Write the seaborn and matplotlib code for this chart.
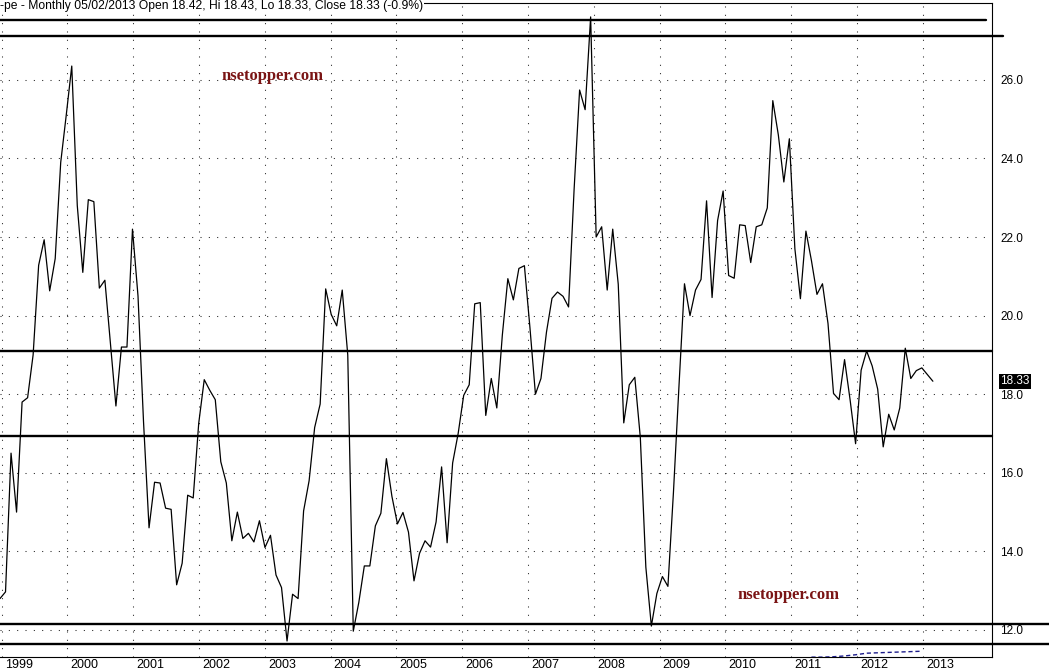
import matplotlib
matplotlib.use("Agg")
import matplotlib.pyplot as plt
import matplotlib.transforms as mtransforms
import seaborn as sns

# ---------------- data ----------------
pe_values = [
    12.80, 12.97, 16.5, 15.0, 17.80, 17.91, 19.0, 21.28, 21.93, 20.63,
    21.45, 23.9, 25.1, 26.35, 22.8, 21.1, 22.95, 22.9, 20.7, 20.9,
    19.3, 17.7, 19.2, 19.2, 22.2, 20.5, 17.3, 14.6, 15.76, 15.74,
    15.1, 15.07, 13.15, 13.7, 15.43, 15.36, 17.26, 18.37, 18.1, 17.86,
    16.28, 15.74, 14.27, 15.0, 14.33, 14.46, 14.24, 14.78, 14.1, 14.41,
    13.4, 13.08, 11.72, 12.91, 12.8, 15.03, 15.8, 17.15, 17.75, 20.68,
    20.03, 19.74, 20.65, 19.0, 11.97, 12.7, 13.63, 13.63, 14.65, 14.97,
    16.36, 15.4, 14.70, 14.99, 14.49, 13.25, 13.95, 14.27, 14.11, 14.75,
    16.15, 14.22, 16.25, 17.0, 17.97, 18.24, 20.3, 20.33, 17.46, 18.4,
    17.65, 19.5, 20.94, 20.4, 21.2, 21.27, 19.7, 18.0, 18.4, 19.58,
    20.44, 20.6, 20.49, 20.22, 23.2, 25.74, 25.24, 27.6, 22.0, 22.26,
    20.65, 22.2, 20.8, 17.27, 18.24, 18.43, 16.9, 13.6, 12.1, 12.93,
    13.36, 13.11, 15.5, 18.2, 20.81, 20.0, 20.65, 20.92, 22.92, 20.46,
    22.42, 23.17, 21.02, 20.95, 22.31, 22.29, 21.35, 22.26, 22.31, 22.74,
    25.47, 24.6, 23.4, 24.5, 21.7, 20.43, 22.15, 21.4, 20.54, 20.81,
    19.8, 18.02, 17.86, 18.88, 17.86, 16.74, 18.61, 19.1, 18.72, 18.13,
    16.66, 17.49, 17.09, 17.65, 19.17, 18.4, 18.6, 18.67, 18.5, 18.33,
]
month_index = list(range(len(pe_values)))

indicator_index = [147, 149, 151, 153, 155, 157, 159, 161, 163, 165, 167]
indicator_values = [11.31, 11.31, 11.32, 11.34, 11.37, 11.41, 11.42, 11.43, 11.44, 11.45, 11.46]

year_labels = ["1999", "2000", "2001", "2002", "2003", "2004", "2005", "2006",
               "2007", "2008", "2009", "2010", "2011", "2012", "2013"]
y_tick_values = [12.0, 14.0, 16.0, 18.0, 20.0, 22.0, 24.0, 26.0]

level_lines = [27.52, 27.11, 19.09, 16.94, 12.15, 11.64]
level_right_px = [986, 1003, 992, 992, 1049, 1049]

last_close = 18.33
title_text = "-pe - Monthly 05/02/2013 Open 18.42, Hi 18.43, Lo 18.33, Close 18.33 (-0.9%)"
watermark_text = "nsetopper.com"

# ---------------- layout ----------------
W, H = 1049, 670
AX_L, AX_R, AX_T, AX_B = 0, 992, 3, 657
PX_PER_MONTH = 5.52
PX_PER_UNIT = 39.3

sns.set_style("white")
plt.rcParams["font.family"] = ["Liberation Sans", "DejaVu Sans"]

fig = plt.figure(figsize=(W / 100, H / 100), dpi=100)
fig.patch.set_facecolor("white")
ax = fig.add_axes([AX_L / W, 1 - AX_B / H, (AX_R - AX_L) / W, (AX_B - AX_T) / H])

x_max = (AX_R - AX_L) / PX_PER_MONTH
y_min = 12.0 - (AX_B - 630) / PX_PER_UNIT
y_max = y_min + (AX_B - AX_T) / PX_PER_UNIT
ax.set_xlim(0, x_max)
ax.set_ylim(y_min, y_max)

# grid
year_pos = [0.3 + 11.92 * i for i in range(len(year_labels))]
ax.set_xticks(year_pos)
ax.set_xticklabels(year_labels)
ax.set_yticks(y_tick_values)
ax.set_yticklabels([f"{v:.1f}" for v in y_tick_values])
ax.grid(True, color="#222222", linestyle=(0, (1, 7)), linewidth=0.75)
ax.set_axisbelow(True)

# level lines
for val, rpx in zip(level_lines, level_right_px):
    ax.axhline(val, xmin=0, xmax=rpx / (AX_R - AX_L), color="black",
               linewidth=1.7, clip_on=False, zorder=2)

# main series
sns.lineplot(x=month_index, y=pe_values, ax=ax, color="black",
             linewidth=0.9, sort=False, zorder=3)
# small indicator
sns.lineplot(x=indicator_index, y=indicator_values, ax=ax, color="#1c1c8a",
             linewidth=1.0, linestyle=(0, (3, 2)), sort=False, zorder=3)

# spines
for side in ["top", "right", "bottom"]:
    ax.spines[side].set_visible(True)
    ax.spines[side].set_color("black")
    ax.spines[side].set_linewidth(0.8)
ax.spines["left"].set_visible(False)

ax.yaxis.tick_right()
ax.tick_params(axis="y", length=0, pad=6, labelsize=8.5, colors="black")
ax.tick_params(axis="x", direction="out", length=4.3, width=0.8,
               pad=-2.9, labelsize=9, colors="black")
offset = mtransforms.ScaledTranslation(3 / 100, 0, fig.dpi_scale_trans)
for lbl in ax.get_xticklabels():
    lbl.set_horizontalalignment("left")
    lbl.set_transform(lbl.get_transform() + offset)
ax.set_xlabel("")
ax.set_ylabel("")

# last value box
blend = mtransforms.blended_transform_factory(ax.transAxes, ax.transData)
box_off = mtransforms.ScaledTranslation(8 / 100, 0, fig.dpi_scale_trans)
ax.text(1.0, last_close, f"{last_close:.2f}", transform=blend + box_off,
        ha="left", va="center", color="white", fontsize=8.5,
        bbox=dict(boxstyle="square,pad=0.12", fc="black", ec="none"),
        clip_on=False)

# watermarks
wm_kw = dict(transform=ax.transAxes, ha="center", va="center", fontsize=12,
             fontweight="bold", color="#7a1414", family=["Liberation Serif", "DejaVu Serif"])
ax.text(273 / (AX_R - AX_L), (AX_B - 76) / (AX_B - AX_T), watermark_text, **wm_kw)
ax.text(789 / (AX_R - AX_L), (AX_B - 595) / (AX_B - AX_T), watermark_text, **wm_kw)

# title
fig.text(0.0, 1.0, title_text, ha="left", va="top", fontsize=8.7, color="black",
         bbox=dict(boxstyle="square,pad=0.1", fc="white", ec="none"))

fig.savefig("out.png", dpi=100, facecolor="white")
